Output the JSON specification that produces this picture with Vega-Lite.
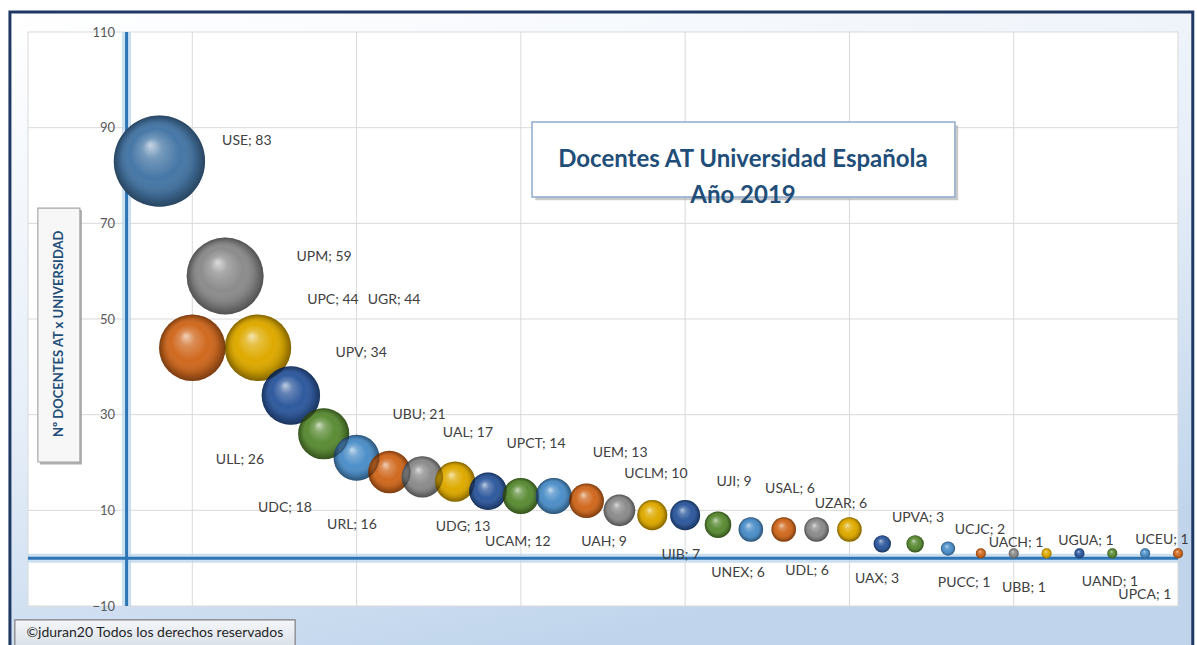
{
  "$schema": "https://vega.github.io/schema/vega-lite/v6.json",
  "width": 1150,
  "height": 574,
  "autosize": {"type": "none"},
  "padding": {"left": 28, "top": 32, "right": 19, "bottom": 39},
  "background": "#ffffff",
  "config": {"view": {"stroke": null}},
  "datasets": {
    "uni": [
      {"n": 1, "univ": "USE", "v": 83, "label": "USE; 83", "lx": 3.66, "ly": 87.2},
      {"n": 2, "univ": "UPC", "v": 44, "label": "UPC; 44", "lx": 6.28, "ly": 54.0},
      {"n": 3, "univ": "UPM", "v": 59, "label": "UPM; 59", "lx": 6.01, "ly": 62.9},
      {"n": 4, "univ": "UGR", "v": 44, "label": "UGR; 44", "lx": 8.14, "ly": 54.0},
      {"n": 5, "univ": "UPV", "v": 34, "label": "UPV; 34", "lx": 7.14, "ly": 42.9},
      {"n": 6, "univ": "ULL", "v": 26, "label": "ULL; 26", "lx": 3.45, "ly": 20.5},
      {"n": 7, "univ": "UBU", "v": 21, "label": "UBU; 21", "lx": 8.9, "ly": 30.0},
      {"n": 8, "univ": "UDC", "v": 18, "label": "UDC; 18", "lx": 4.82, "ly": 10.5},
      {"n": 9, "univ": "UAL", "v": 17, "label": "UAL; 17", "lx": 10.39, "ly": 26.2},
      {"n": 10, "univ": "URL", "v": 16, "label": "URL; 16", "lx": 6.86, "ly": 6.9},
      {"n": 11, "univ": "UPCT", "v": 14, "label": "UPCT; 14", "lx": 12.46, "ly": 23.8},
      {"n": 12, "univ": "UDG", "v": 13, "label": "UDG; 13", "lx": 10.24, "ly": 6.5},
      {"n": 13, "univ": "UEM", "v": 13, "label": "UEM; 13", "lx": 15.02, "ly": 22.0},
      {"n": 14, "univ": "UCAM", "v": 12, "label": "UCAM; 12", "lx": 11.91, "ly": 3.4},
      {"n": 15, "univ": "UCLM", "v": 10, "label": "UCLM; 10", "lx": 16.11, "ly": 17.5},
      {"n": 16, "univ": "UAH", "v": 9, "label": "UAH; 9", "lx": 14.53, "ly": 3.4},
      {"n": 17, "univ": "UJI", "v": 9, "label": "UJI; 9", "lx": 18.49, "ly": 15.9},
      {"n": 18, "univ": "UIB", "v": 7, "label": "UIB; 7", "lx": 16.87, "ly": 0.7},
      {"n": 19, "univ": "UNEX", "v": 6, "label": "UNEX; 6", "lx": 18.61, "ly": -3.1},
      {"n": 20, "univ": "USAL", "v": 6, "label": "USAL; 6", "lx": 20.19, "ly": 14.5},
      {"n": 21, "univ": "UDL", "v": 6, "label": "UDL; 6", "lx": 20.71, "ly": -2.7},
      {"n": 22, "univ": "UZAR", "v": 6, "label": "UZAR; 6", "lx": 21.74, "ly": 11.3},
      {"n": 23, "univ": "UAX", "v": 3, "label": "UAX; 3", "lx": 22.84, "ly": -4.4},
      {"n": 24, "univ": "UPVA", "v": 3, "label": "UPVA; 3", "lx": 24.09, "ly": 8.4},
      {"n": 25, "univ": "UCJC", "v": 2, "label": "UCJC; 2", "lx": 25.97, "ly": 5.9},
      {"n": 26, "univ": "PUCC", "v": 1, "label": "PUCC; 1", "lx": 25.49, "ly": -5.2},
      {"n": 27, "univ": "UACH", "v": 1, "label": "UACH; 1", "lx": 27.07, "ly": 3.2},
      {"n": 28, "univ": "UBB", "v": 1, "label": "UBB; 1", "lx": 27.31, "ly": -6.2},
      {"n": 29, "univ": "UGUA", "v": 1, "label": "UGUA; 1", "lx": 29.2, "ly": 3.6},
      {"n": 30, "univ": "UAND", "v": 1, "label": "UAND; 1", "lx": 29.93, "ly": -4.9},
      {"n": 31, "univ": "UCEU", "v": 1, "label": "UCEU; 1", "lx": 31.51, "ly": 3.8},
      {"n": 32, "univ": "UPCA", "v": 1, "label": "UPCA; 1", "lx": 30.99, "ly": -7.6}
    ],
    "gridx": [{"g": -3}, {"g": 2}, {"g": 7}, {"g": 12}, {"g": 17}, {"g": 22}, {"g": 27}, {"g": 32}],
    "gridy": [{"g": -10}, {"g": 10}, {"g": 30}, {"g": 50}, {"g": 70}, {"g": 90}, {"g": 110}],
    "one": [{"k": 1}]
  },
  "layer": [
    {
      "data": {"name": "one"},
      "mark": {"type": "rect", "stroke": "#1f3864", "strokeWidth": 3,
        "fill": {"gradient": "linear", "x1": 0, "y1": 0, "x2": 0.4, "y2": 1,
          "stops": [{"offset": 0, "color": "#ffffff"}, {"offset": 0.55, "color": "#e6eef8"}, {"offset": 1, "color": "#c0d5ec"}]}},
      "encoding": {
        "x": {"datum": -3.55, "type": "quantitative", "scale": {"domain": [-3, 32], "nice": false, "zero": false}, "axis": null},
        "x2": {"datum": 32.45},
        "y": {"datum": 114.2, "type": "quantitative", "scale": {"domain": [-10, 110], "nice": false, "zero": false},
          "axis": {"values": [-10, 10, 30, 50, 70, 90, 110], "grid": false, "domain": false, "ticks": false, "offset": -98.6,
            "labelPadding": 12, "labelFont": "Lato", "labelFontSize": 13, "labelColor": "#595959", "title": null, "zindex": 1}},
        "y2": {"datum": -22}
      }
    },
    {
      "data": {"name": "one"},
      "mark": {"type": "rect", "fill": "#ffffff"},
      "encoding": {
        "x": {"datum": -3, "type": "quantitative", "scale": {"domain": [-3, 32], "nice": false, "zero": false}},
        "x2": {"datum": 32},
        "y": {"datum": 110, "type": "quantitative", "scale": {"domain": [-10, 110], "nice": false, "zero": false}},
        "y2": {"datum": -10}
      }
    },
    {
      "data": {"name": "gridx"},
      "mark": {"type": "rule", "color": "#d9d9d9", "strokeWidth": 1},
      "encoding": {
        "x": {"field": "g", "type": "quantitative", "scale": {"domain": [-3, 32], "nice": false, "zero": false}}
      }
    },
    {
      "data": {"name": "gridy"},
      "mark": {"type": "rule", "color": "#d9d9d9", "strokeWidth": 1},
      "encoding": {
        "y": {"field": "g", "type": "quantitative", "scale": {"domain": [-10, 110], "nice": false, "zero": false}}
      }
    },
    {
      "data": {"name": "one"},
      "mark": {"type": "rule", "color": "#bdd7ee", "strokeWidth": 9, "opacity": 0.8},
      "encoding": {"x": {"datum": 0, "type": "quantitative", "scale": {"domain": [-3, 32], "nice": false, "zero": false}}}
    },
    {
      "data": {"name": "one"},
      "mark": {"type": "rule", "color": "#bdd7ee", "strokeWidth": 9, "opacity": 0.8},
      "encoding": {"y": {"datum": 0, "type": "quantitative", "scale": {"domain": [-10, 110], "nice": false, "zero": false}}}
    },
    {
      "data": {"name": "one"},
      "mark": {"type": "rule", "color": "#2e75b6", "strokeWidth": 3},
      "encoding": {"x": {"datum": 0, "type": "quantitative", "scale": {"domain": [-3, 32], "nice": false, "zero": false}}}
    },
    {
      "data": {"name": "one"},
      "mark": {"type": "rule", "color": "#2e75b6", "strokeWidth": 3},
      "encoding": {"y": {"datum": 0, "type": "quantitative", "scale": {"domain": [-10, 110], "nice": false, "zero": false}}}
    },
    {
      "data": {"name": "uni"},
      "mark": {"type": "circle", "opacity": 1, "strokeWidth": 0},
      "encoding": {
        "x": {"field": "n", "type": "quantitative", "scale": {"domain": [-3, 32], "nice": false, "zero": false}},
        "y": {"field": "v", "type": "quantitative", "scale": {"domain": [-10, 110], "nice": false, "zero": false}},
        "size": {"field": "v", "type": "quantitative", "scale": {"type": "linear", "domain": [0, 83], "range": [0, 8332], "zero": true}, "legend": null},
        "order": {"field": "n", "type": "quantitative"},
        "color": {"field": "univ", "type": "nominal", "legend": null,
          "scale": {
            "domain": ["USE","UPC","UPM","UGR","UPV","ULL","UBU","UDC","UAL","URL","UPCT","UDG","UEM","UCAM","UCLM","UAH","UJI","UIB","UNEX","USAL","UDL","UZAR","UAX","UPVA","UCJC","PUCC","UACH","UBB","UGUA","UAND","UCEU","UPCA"],
            "range": ["#4677a6",
              "#d0691f","#8c8c8c","#deaa00","#2f5a9e","#5b8c35","#4d8fc9",
              "#d0691f","#8c8c8c","#deaa00","#2f5a9e","#5b8c35","#4d8fc9",
              "#d0691f","#8c8c8c","#deaa00","#2f5a9e","#5b8c35","#4d8fc9",
              "#d0691f","#8c8c8c","#deaa00","#2f5a9e","#5b8c35","#4d8fc9",
              "#d0691f","#8c8c8c","#deaa00","#2f5a9e","#5b8c35","#4d8fc9",
              "#d0691f"]
          }}
      }
    },
    {
      "data": {"name": "uni"},
      "mark": {"type": "circle", "opacity": 1, "strokeWidth": 0,
        "fill": {"gradient": "radial", "x1": 0.4, "y1": 0.32, "r1": 0, "x2": 0.5, "y2": 0.5, "r2": 0.5,
          "stops": [
            {"offset": 0, "color": "rgba(255,255,255,0.7)"},
            {"offset": 0.22, "color": "rgba(255,255,255,0.25)"},
            {"offset": 0.55, "color": "rgba(255,255,255,0)"},
            {"offset": 0.82, "color": "rgba(0,0,0,0.14)"},
            {"offset": 1, "color": "rgba(0,0,0,0.42)"}
          ]}},
      "encoding": {
        "x": {"field": "n", "type": "quantitative", "scale": {"domain": [-3, 32], "nice": false, "zero": false}},
        "y": {"field": "v", "type": "quantitative", "scale": {"domain": [-10, 110], "nice": false, "zero": false}},
        "size": {"field": "v", "type": "quantitative", "scale": {"type": "linear", "domain": [0, 83], "range": [0, 8332], "zero": true}, "legend": null},
        "order": {"field": "n", "type": "quantitative"}
      }
    },
    {
      "data": {"name": "uni"},
      "mark": {"type": "text", "font": "Lato", "fontSize": 14, "color": "#404040", "align": "center", "baseline": "middle"},
      "encoding": {
        "x": {"field": "lx", "type": "quantitative", "scale": {"domain": [-3, 32], "nice": false, "zero": false}},
        "y": {"field": "ly", "type": "quantitative", "scale": {"domain": [-10, 110], "nice": false, "zero": false}},
        "text": {"field": "label"}
      }
    },
    {
      "data": {"name": "one"},
      "mark": {"type": "rect", "fill": "#a6a6a6", "opacity": 0.6},
      "encoding": {
        "x": {"datum": 12.44, "type": "quantitative", "scale": {"domain": [-3, 32], "nice": false, "zero": false}},
        "x2": {"datum": 25.31},
        "y": {"datum": 90.5, "type": "quantitative", "scale": {"domain": [-10, 110], "nice": false, "zero": false}},
        "y2": {"datum": 74.8}
      }
    },
    {
      "data": {"name": "one"},
      "mark": {"type": "rect", "fill": "#ffffff", "stroke": "#8faacd", "strokeWidth": 1.5},
      "encoding": {
        "x": {"datum": 12.34, "type": "quantitative", "scale": {"domain": [-3, 32], "nice": false, "zero": false}},
        "x2": {"datum": 25.21},
        "y": {"datum": 91.2, "type": "quantitative", "scale": {"domain": [-10, 110], "nice": false, "zero": false}},
        "y2": {"datum": 75.5}
      }
    },
    {
      "data": {"name": "one"},
      "mark": {"type": "text", "font": "Lato", "fontWeight": "bold", "fontSize": 24, "color": "#1f4e79", "align": "center", "baseline": "middle", "lineHeight": 36},
      "encoding": {
        "x": {"datum": 18.76, "type": "quantitative", "scale": {"domain": [-3, 32], "nice": false, "zero": false}},
        "y": {"datum": 83.25, "type": "quantitative", "scale": {"domain": [-10, 110], "nice": false, "zero": false}},
        "text": {"value": ["Docentes AT Universidad Española", "Año 2019"]}
      }
    },
    {
      "data": {"name": "one"},
      "mark": {"type": "rect", "fill": "#8c8c8c", "opacity": 0.7},
      "encoding": {
        "x": {"datum": -2.64, "type": "quantitative", "scale": {"domain": [-3, 32], "nice": false, "zero": false}},
        "x2": {"datum": -1.36},
        "y": {"datum": 72.8, "type": "quantitative", "scale": {"domain": [-10, 110], "nice": false, "zero": false}},
        "y2": {"datum": 19.6}
      }
    },
    {
      "data": {"name": "one"},
      "mark": {"type": "rect", "fill": "#f7f7f7", "stroke": "#a6a6a6", "strokeWidth": 1.2},
      "encoding": {
        "x": {"datum": -2.7, "type": "quantitative", "scale": {"domain": [-3, 32], "nice": false, "zero": false}},
        "x2": {"datum": -1.42},
        "y": {"datum": 73.2, "type": "quantitative", "scale": {"domain": [-10, 110], "nice": false, "zero": false}},
        "y2": {"datum": 20.1}
      }
    },
    {
      "data": {"name": "one"},
      "mark": {"type": "text", "font": "Lato", "fontWeight": "bold", "fontSize": 13, "color": "#1f4e79", "align": "center", "baseline": "middle", "angle": 270},
      "encoding": {
        "x": {"datum": -2.06, "type": "quantitative", "scale": {"domain": [-3, 32], "nice": false, "zero": false}},
        "y": {"datum": 46.9, "type": "quantitative", "scale": {"domain": [-10, 110], "nice": false, "zero": false}},
        "text": {"value": "Nº DOCENTES AT x UNIVERSIDAD"}
      }
    },
    {
      "data": {"name": "one"},
      "mark": {"type": "rect", "stroke": "#7f7f7f", "strokeWidth": 1.2,
        "fill": {"gradient": "linear", "x1": 0, "y1": 0, "x2": 0, "y2": 1,
          "stops": [{"offset": 0, "color": "#f4f6f9"}, {"offset": 1, "color": "#d6dde6"}]}},
      "encoding": {
        "x": {"datum": -3.4, "type": "quantitative", "scale": {"domain": [-3, 32], "nice": false, "zero": false}},
        "x2": {"datum": 5.13},
        "y": {"datum": -12.92, "type": "quantitative", "scale": {"domain": [-10, 110], "nice": false, "zero": false}},
        "y2": {"datum": -19.5}
      }
    },
    {
      "data": {"name": "one"},
      "mark": {"type": "text", "font": "Lato", "fontSize": 14, "color": "#262626", "align": "center", "baseline": "middle"},
      "encoding": {
        "x": {"datum": 0.86, "type": "quantitative", "scale": {"domain": [-3, 32], "nice": false, "zero": false}},
        "y": {"datum": -15.64, "type": "quantitative", "scale": {"domain": [-10, 110], "nice": false, "zero": false}},
        "text": {"value": "©jduran20 Todos los derechos reservados"}
      }
    }
  ]
}
